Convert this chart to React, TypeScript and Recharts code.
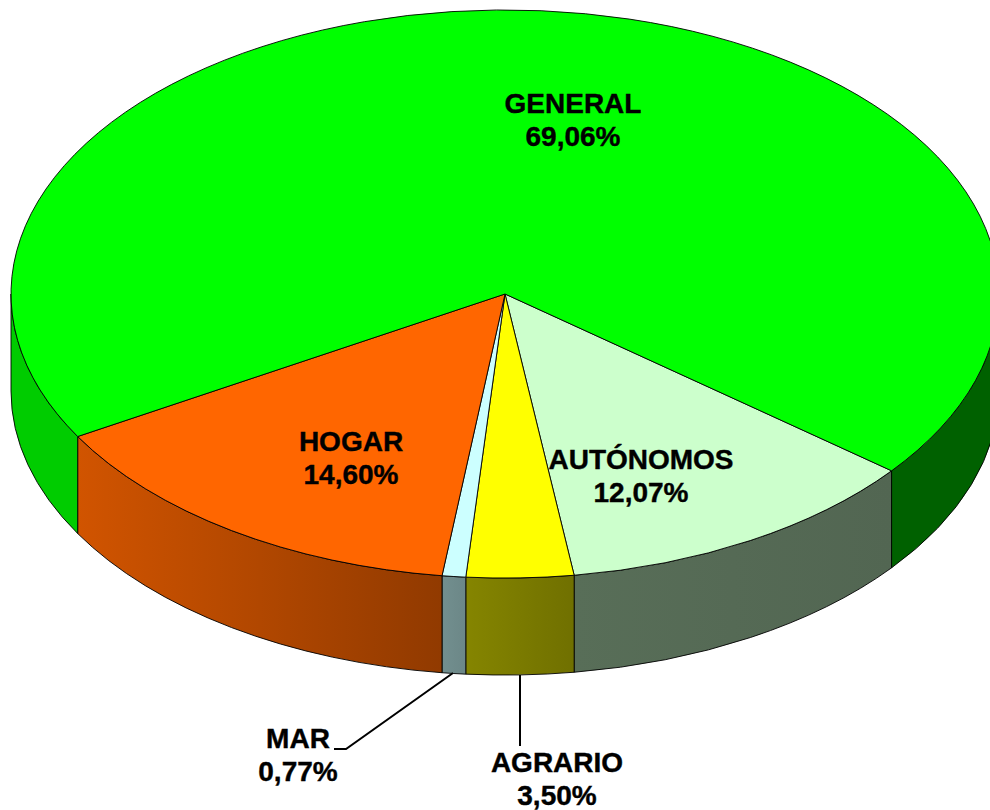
import React from "react";
import { PieChart, Pie } from "recharts";

const categories = ["AUTÓNOMOS", "AGRARIO", "MAR", "HOGAR", "GENERAL"];
const shares = [12.07, 3.5, 0.77, 14.6, 69.06];
const colors = ["#CCFFCC", "#FFFF00", "#CCFFFF", "#FF6600", "#00FF00"];

// Wall brightness at the left and right end of each visible wall piece.
const wallShades: [number, number][][] = [
  [[0.43, 0.4]],
  [[0.52, 0.44]],
  [[0.56, 0.53]],
  [[0.82, 0.57]],
  [[0.8, 0.8], [0.38, 0.38]],
];

const labelSpots = [
  { x: 641, y: 469 },
  { x: 557, y: 772 },
  { x: 298, y: 748 },
  { x: 351, y: 451 },
  { x: 573, y: 113 },
];
const leaders: Record<number, string> = {
  1: "M520 675 L520 746",
  2: "M453 673 L346 749 L334 749",
};

const tableData = categories.map((name, i) => ({ name, value: shares[i] }));

const SQUASH = 0.575;
const DEPTH = 97;
const FIRST_ANGLE = -38.5;

const shade = (hex: string, k: number) => {
  const n = parseInt(hex.slice(1), 16);
  const c = [(n >> 16) & 255, (n >> 8) & 255, n & 255].map((v) => Math.round(v * k));
  return `rgb(${c[0]},${c[1]},${c[2]})`;
};

const EllipticSlice = (props: any) => {
  const { cx, cy, outerRadius, startAngle, endAngle, index } = props;
  const rx = outerRadius;
  const ry = outerRadius * SQUASH;
  const pt = (deg: number, dy = 0) => {
    const t = (deg * Math.PI) / 180;
    return [cx + rx * Math.cos(t), cy + ry * Math.sin(t) + dy];
  };
  const a0 = -startAngle;
  const a1 = -endAngle;
  const [sx, sy] = pt(a0);
  const [ex, ey] = pt(a1);
  const large = a1 - a0 > 180 ? 1 : 0;
  const top = `M${cx} ${cy} L${sx} ${sy} A${rx} ${ry} 0 ${large} 1 ${ex} ${ey} Z`;

  // Front-facing parts of the rim are those where the sine of the angle is positive.
  const spans: [number, number][] = [];
  for (const [lo, hi] of [[0, 180], [360, 540]]) {
    const from = Math.max(a0, lo);
    const to = Math.min(a1, hi);
    if (to > from) spans.push([from, to]);
  }
  // Left-most wall piece first, so it takes the first entry of wallShades.
  const pieces = [...spans].sort((p, q) => pt(p[1])[0] - pt(q[1])[0]);
  const color = colors[index];

  return (
    <g>
      {pieces.map(([from, to], j) => {
        const [x0, y0] = pt(from);
        const [x1, y1] = pt(to);
        const [b0x, b0y] = pt(from, DEPTH);
        const [b1x, b1y] = pt(to, DEPTH);
        const d = `M${x0} ${y0} A${rx} ${ry} 0 0 1 ${x1} ${y1} L${b1x} ${b1y} A${rx} ${ry} 0 0 0 ${b0x} ${b0y} Z`;
        const id = `wall-${index}-${j}`;
        const [kl, kr] = wallShades[index][j] ?? wallShades[index][0];
        return (
          <g key={id}>
            <defs>
              <linearGradient
                id={id}
                gradientUnits="userSpaceOnUse"
                x1={Math.min(x0, x1)}
                y1={0}
                x2={Math.max(x0, x1)}
                y2={0}
              >
                <stop offset="0" stopColor={shade(color, kl)} />
                <stop offset="1" stopColor={shade(color, kr)} />
              </linearGradient>
            </defs>
            <path d={d} fill={`url(#${id})`} stroke="#000" strokeWidth={0.9} strokeLinejoin="round" />
          </g>
        );
      })}
      <path d={top} fill={color} stroke="#000" strokeWidth={0.9} strokeLinejoin="round" />
    </g>
  );
};

const textStyle: React.CSSProperties = {
  fontFamily: '"Liberation Sans", Arial, sans-serif',
  fontWeight: 700,
  fontSize: 28,
  stroke: "#000",
  strokeWidth: 0.4,
};

const SliceLabel = (props: any) => {
  const { index, name, value } = props;
  const spot = labelSpots[index];
  return (
    <g>
      {leaders[index] && <path d={leaders[index]} fill="none" stroke="#000" strokeWidth={2} />}
      <text x={spot.x} y={spot.y} textAnchor="middle" fill="#000" style={textStyle}>
        {name}
      </text>
      <text x={spot.x} y={spot.y + 33} textAnchor="middle" fill="#000" style={textStyle}>
        {`${Number(value).toFixed(2).replace(".", ",")}%`}
      </text>
    </g>
  );
};

export default function App() {
  return (
    <div style={{ position: "fixed", left: 0, top: 0, width: 990, height: 810, overflow: "hidden", background: "#fff" }}>
      <PieChart width={990} height={810} margin={{ top: 0, right: 0, bottom: 0, left: 0 }}>
        <Pie
          data={tableData}
          dataKey="value"
          nameKey="name"
          cx={505}
          cy={294}
          innerRadius={0}
          outerRadius={494}
          startAngle={FIRST_ANGLE}
          endAngle={FIRST_ANGLE - 360}
          paddingAngle={0}
          minAngle={0}
          stroke="none"
          shape={EllipticSlice}
          label={SliceLabel}
          labelLine={false}
          isAnimationActive={false}
        />
      </PieChart>
    </div>
  );
}
